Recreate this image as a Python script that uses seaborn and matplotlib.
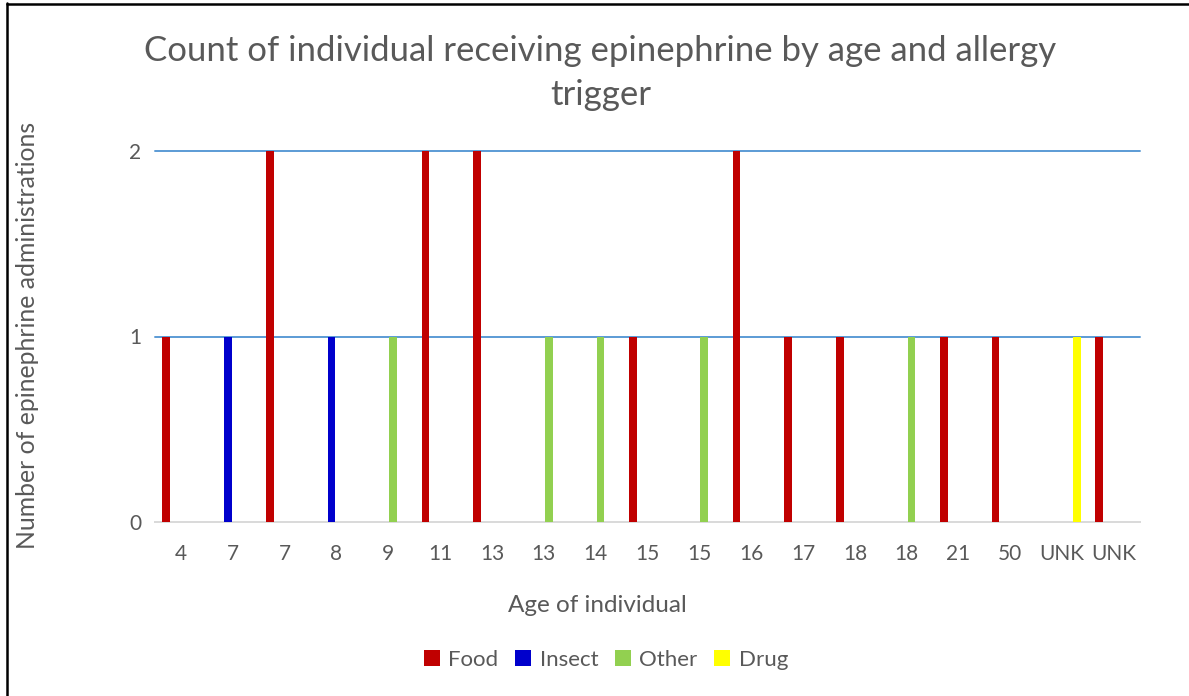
import numpy as np
import pandas as pd
import matplotlib.pyplot as plt
from matplotlib.lines import Line2D
import seaborn as sns

sns.set_style('white')
plt.rcParams['font.family'] = ['Lato', 'DejaVu Sans']

# data
ages = ['4', '7', '7', '8', '9', '11', '13', '13', '14', '15', '15',
        '16', '17', '18', '18', '21', '50', 'UNK', 'UNK']
food   = [1, 0, 2, 0, 0, 2, 2, 0, 0, 1, 0, 2, 1, 1, 0, 1, 1, 0, 1]
insect = [0, 1, 0, 1, 0, 0, 0, 0, 0, 0, 0, 0, 0, 0, 0, 0, 0, 0, 0]
other  = [0, 0, 0, 0, 1, 0, 0, 1, 1, 0, 1, 0, 0, 0, 1, 0, 0, 0, 0]
drug   = [0, 0, 0, 0, 0, 0, 0, 0, 0, 0, 0, 0, 0, 0, 0, 0, 0, 1, 0]
triggers = ['Food', 'Insect', 'Other', 'Drug']
colors = ['#C00000', '#0000CC', '#92D050', '#FFFF00']

pos = np.arange(len(ages))
df = pd.concat([pd.DataFrame({'pos': pos, 'trigger': t, 'count': v})
                for t, v in zip(triggers, [food, insect, other, drug])])

txt = '#595959'
fig = plt.figure(figsize=(11.89, 6.96), dpi=100)
ax = fig.add_axes([155/1189, 1 - 522/696, 985/1189, 371/696])

sns.barplot(data=df, x='pos', y='count', hue='trigger', hue_order=triggers,
            palette=colors, width=0.76, gap=0.22, ax=ax, saturation=1,
            errorbar=None, linewidth=0, edgecolor='none', zorder=3)

ax.set_ylim(0, 2)
ax.set_yticks([0, 1, 2])
ax.set_xticks(pos)
ax.set_xticklabels(ages)
ax.tick_params(axis='x', length=0, pad=16, labelsize=15, labelcolor=txt)
ax.tick_params(axis='y', length=0, pad=10, labelsize=15, labelcolor=txt)

ax.yaxis.grid(True, color='#5B9BD5', lw=1.4)
for gl in ax.yaxis.get_gridlines():
    gl.set_clip_on(False)
ax.yaxis.get_gridlines()[0].set_visible(False)
ax.set_axisbelow(True)
for s in ['top', 'right', 'left']:
    ax.spines[s].set_visible(False)
ax.spines['bottom'].set_color('#D9D9D9')
ax.spines['bottom'].set_linewidth(1.4)

ax.set_xlabel('Age of individual', fontsize=17.5, color=txt)
ax.xaxis.set_label_coords(0.449, -0.196)
ax.set_ylabel('Number of epinephrine administrations', fontsize=17.8, color=txt)
ax.yaxis.set_label_coords(-0.118, 0.504)

fig.suptitle('Count of individual receiving epinephrine by age and allergy\ntrigger',
             x=0.505, y=1 - 35/696, va='top', fontsize=25, color=txt,
             linespacing=1.45)

sns.move_legend(ax, 'center', bbox_to_anchor=(0.458, -0.372), ncol=4,
                frameon=False, title=None, fontsize=16, handlelength=0.7,
                handleheight=0.7, handletextpad=0.4, columnspacing=0.75,
                labelcolor=txt)

# chart frame (left and top edges visible)
fig.add_artist(Line2D([7/1189, 7/1189], [0, 1 - 3/696], color='black', lw=1.8))
fig.add_artist(Line2D([7/1189, 1], [1 - 3.5/696, 1 - 3.5/696], color='black', lw=1.8))

fig.savefig('out.png', dpi=100)
